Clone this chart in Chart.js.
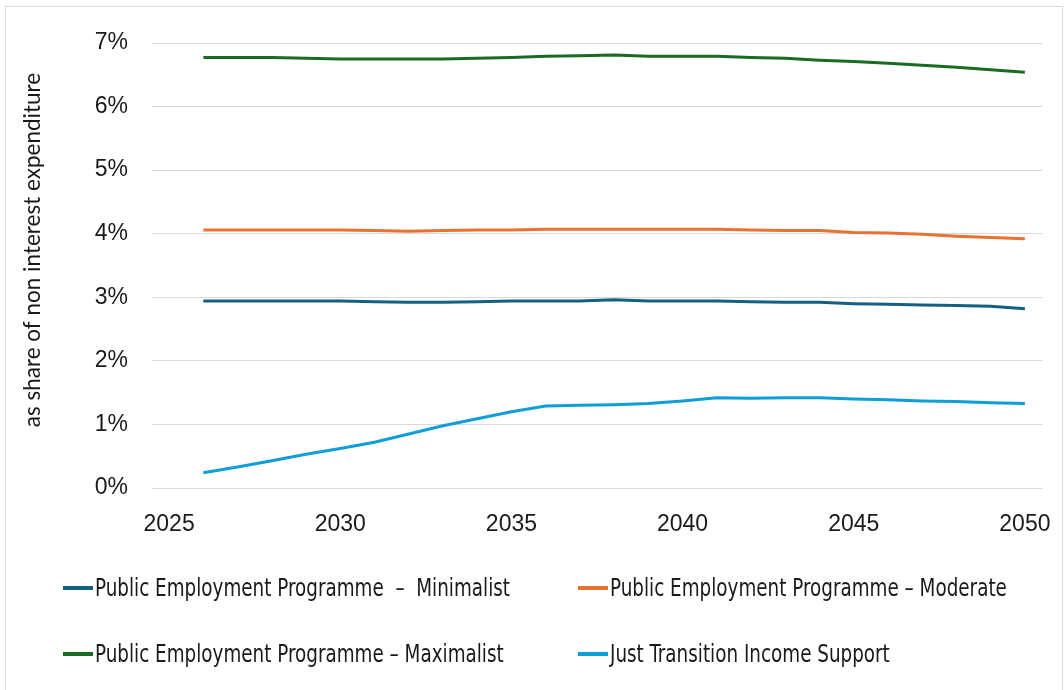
<!DOCTYPE html>
<html>
<head>
<meta charset="utf-8">
<script src="https://cdn.jsdelivr.net/npm/chart.js@4.4.1/dist/chart.umd.min.js"></script>
<style>
  body { margin: 0; background: #fff; width: 1064px; height: 690px; overflow: hidden; position: relative; }
  #frame { position: absolute; left: 5px; top: 6px; width: 1056px; height: 700px; border: 1px solid #d9d9d9; }
  #wrap { position: absolute; left: 0; top: 0; width: 1064px; height: 560px; }
  #legend { position: absolute; left: 0; top: 0; width: 1064px; height: 690px; pointer-events: none;
            font-family: "Liberation Sans Narrow", "DejaVu Sans Condensed", sans-serif; font-size: 24px; color: #1a1a1a; }
  .item { position: absolute; display: flex; align-items: center; white-space: pre; transform: translateY(-50%); }
  .swatch { width: 30px; height: 4px; margin-right: 2px; flex: none; }
  .label { display: inline-block; transform: scaleX(0.85); transform-origin: left center; }
</style>
</head>
<body>
<div id="frame"></div>
<div id="wrap"><canvas id="costChart"></canvas></div>
<div id="legend"></div>
<script>
const years = ['2025', '2026', '2027', '2028', '2029', '2030', '2031', '2032', '2033', '2034', '2035', '2036', '2037',
  '2038', '2039', '2040', '2041', '2042', '2043', '2044', '2045', '2046', '2047', '2048', '2049', '2050'];

// % of non interest expenditure; no value for 2025
const minimalist = [null, 2.94, 2.94, 2.94, 2.94, 2.94, 2.93, 2.92, 2.92, 2.93, 2.94, 2.94, 2.94,
  2.96, 2.94, 2.94, 2.94, 2.93, 2.92, 2.92, 2.90, 2.89, 2.88, 2.87, 2.86, 2.82];
const moderate = [null, 4.06, 4.06, 4.06, 4.06, 4.06, 4.05, 4.04, 4.05, 4.06, 4.06, 4.07, 4.07,
  4.07, 4.07, 4.07, 4.07, 4.06, 4.05, 4.05, 4.02, 4.01, 3.99, 3.96, 3.94, 3.92];
const maximalist = [null, 6.77, 6.77, 6.77, 6.76, 6.75, 6.75, 6.75, 6.75, 6.76, 6.77, 6.79, 6.80,
  6.81, 6.79, 6.79, 6.79, 6.77, 6.76, 6.73, 6.71, 6.68, 6.65, 6.62, 6.58, 6.54];
const incomeSupport = [null, 0.24, 0.33, 0.43, 0.53, 0.62, 0.72, 0.85, 0.98, 1.09, 1.20, 1.29, 1.30,
  1.31, 1.33, 1.37, 1.42, 1.41, 1.42, 1.42, 1.40, 1.39, 1.37, 1.36, 1.34, 1.33];

const seriesNames = [
  'Public Employment Programme  –  Minimalist',
  'Public Employment Programme – Moderate',
  'Public Employment Programme – Maximalist',
  'Just Transition Income Support'
];
const seriesColors = ['#156082', '#E97132', '#196B24', '#0F9ED5'];
const yTicks = [0, 1, 2, 3, 4, 5, 6, 7];
const yTitle = 'as share of non interest expenditure';

const tickFont = { family: '"Liberation Sans", Arial, sans-serif', size: 23 };

// vertical axis title, drawn by hand so it can sit a little above the plot middle
const yTitlePlugin = {
  id: 'yTitle',
  afterDraw(c) {
    const g = c.ctx;
    g.save();
    g.translate(33, 250);
    g.rotate(-Math.PI / 2);
    g.font = '22.5px Lato, "Noto Sans", sans-serif';
    g.fillStyle = '#1a1a1a';
    g.textAlign = 'center';
    g.textBaseline = 'middle';
    g.fillText(yTitle, 0, 0);
    g.restore();
  }
};

const ctx = document.getElementById('costChart').getContext('2d');

const chart = new Chart(ctx, {
  type: 'line',
  data: {
    labels: years,
    datasets: [minimalist, moderate, maximalist, incomeSupport].map((d, i) => ({
      label: seriesNames[i],
      data: d,
      borderColor: seriesColors[i],
      backgroundColor: seriesColors[i],
      borderWidth: 3,
      pointRadius: 0,
      tension: 0
    }))
  },
  options: {
    responsive: true,
    maintainAspectRatio: false,
    animation: false,
    layout: { padding: { top: 43, right: 22, bottom: 0, left: 0 } },
    plugins: { legend: { display: false }, tooltip: { enabled: false } },
    scales: {
      x: {
        offset: true,
        grid: { display: false },
        border: { display: false },
        ticks: {
          autoSkip: false,
          maxRotation: 0,
          padding: 15,
          color: '#1a1a1a',
          font: tickFont,
          callback: function (v, i) { return Number(years[i]) % 5 === 0 ? years[i] : ''; }
        },
        // the end labels sit inside the offset band, no extra side room needed
        afterFit: s => { s.height = 72; s.paddingLeft = 0; s.paddingRight = 0; }
      },
      y: {
        min: yTicks[0],
        max: yTicks[yTicks.length - 1],
        afterBuildTicks: s => { s.ticks = yTicks.map(v => ({ value: v })); },
        grid: { color: '#d9d9d9', lineWidth: 1, drawTicks: false },
        border: { display: false },
        ticks: {
          padding: 24,
          color: '#1a1a1a',
          font: tickFont,
          callback: v => v + '%'
        },
        afterFit: s => { s.width = 152; }
      }
    }
  },
  plugins: [yTitlePlugin]
});

// two-column legend under the plot
const legendPos = [[63, 588], [578, 588], [63, 654], [578, 654]];
const legend = document.getElementById('legend');
chart.data.datasets.forEach((ds, i) => {
  const item = document.createElement('div');
  item.className = 'item';
  item.style.left = legendPos[i][0] + 'px';
  item.style.top = legendPos[i][1] + 'px';
  const sw = document.createElement('span');
  sw.className = 'swatch';
  sw.style.background = ds.borderColor;
  const txt = document.createElement('span');
  txt.className = 'label';
  txt.textContent = ds.label;
  item.appendChild(sw);
  item.appendChild(txt);
  legend.appendChild(item);
});
</script>
</body>
</html>
